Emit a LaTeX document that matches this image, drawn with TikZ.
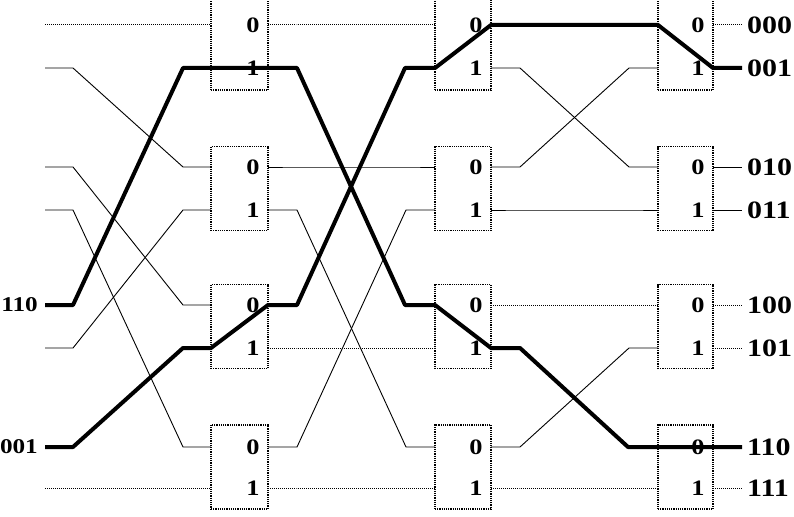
\documentclass[tikz,border=0pt]{standalone}
\usepackage{fontspec}
\setmainfont{Liberation Serif}[FakeStretch=1.2]
\begin{document}
\begin{tikzpicture}[x=1pt,y=-1pt,
  wire/.style={line width=0.9pt},
  dotwire/.style={line width=1pt, dash pattern=on 1pt off 1pt},
  boldwire/.style={line width=4pt, line join=round},
  swbox/.style={draw, line width=1.1pt, dash pattern=on 1.2pt off 1pt, minimum width=56pt, minimum height=84pt, inner sep=0pt, outer sep=0pt},
  port/.style={font=\fontsize{22}{22}\selectfont\bfseries, inner sep=0pt},
  lab/.style={font=\fontsize{25}{25}\selectfont\bfseries, inner sep=0pt, anchor=west},
  inlab/.style={font=\fontsize{21}{21}\selectfont\bfseries, inner sep=0pt, anchor=east},
]
\useasboundingbox (0,0) rectangle (794,516);
% switch boxes
\node[swbox, minimum width=57pt, minimum height=93pt] (A0) at (239.5,43.5) {};
\node[swbox, minimum width=57pt] (A1) at (239.5,188.5) {};
\node[swbox, minimum width=57pt] (A2) at (239.5,326.5) {};
\node[swbox, minimum width=57pt] (A3) at (239.5,467) {};
\node[swbox, minimum height=93pt] (B0) at (463,43.5) {};
\node[swbox] (B1) at (463,188.5) {};
\node[swbox] (B2) at (463,326.5) {};
\node[swbox] (B3) at (463,467) {};
\node[swbox, minimum width=55pt, minimum height=93pt] (C0) at (685.5,43.5) {};
\node[swbox, minimum width=55pt] (C1) at (685.5,188.5) {};
\node[swbox, minimum width=55pt] (C2) at (685.5,326.5) {};
\node[swbox, minimum width=55pt] (C3) at (685.5,467) {};
% port coordinates
\foreach \r/\y in {0/25,1/68,2/167,3/210,4/305,5/348,6/447,7/488}{
  \coordinate (in\r) at (45,\y);
  \coordinate (ai\r) at (211,\y);
  \coordinate (ao\r) at (268,\y);
  \coordinate (bi\r) at (435,\y);
  \coordinate (bo\r) at (491,\y);
  \coordinate (ci\r) at (658,\y);
  \coordinate (co\r) at (713,\y);
  \coordinate (out\r) at (742,\y);
}
% port digits
\foreach \y in {25,167,305,447}{
  \node[port] at (253,\y) {0};
  \node[port] at (476,\y) {0};
  \node[port] at (698,\y) {0};
}
\foreach \y in {68,210,348,488}{
  \node[port] at (253,\y) {1};
  \node[port] at (476,\y) {1};
  \node[port] at (698,\y) {1};
}
\newcommand\conn[4]{\draw[#1] (#2) -- ++(#4,0) -- ([xshift=-#4pt]#3) -- (#3);}
% input -> stage 1
\conn{dotwire}{in0}{ai0}{28}
\conn{wire}{in1}{ai2}{28}
\conn{wire}{in2}{ai4}{28}
\conn{wire}{in3}{ai6}{28}
\conn{wire}{in5}{ai3}{28}
\conn{dotwire}{in7}{ai7}{28}
% stage 1 -> stage 2
\conn{dotwire}{ao0}{bi0}{29}
\conn{wire}{ao2}{bi2}{29}
\conn{wire}{ao3}{bi6}{29}
\conn{dotwire}{ao5}{bi5}{29}
\conn{wire}{ao6}{bi3}{29}
\conn{dotwire}{ao7}{bi7}{29}
% stage 2 -> stage 3
\conn{wire}{bo1}{ci2}{29}
\conn{wire}{bo2}{ci1}{29}
\conn{wire}{bo3}{ci3}{29}
\conn{dotwire}{bo4}{ci4}{29}
\conn{wire}{bo6}{ci5}{29}
\conn{dotwire}{bo7}{ci7}{29}
% outputs
\draw[dotwire] (co0) -- (out0);
\draw[wire] (co2) -- (out2);
\draw[wire] (co3) -- (out3);
\draw[dotwire] (co4) -- (out4);
\draw[dotwire] (co5) -- (out5);
\draw[dotwire] (co7) -- (out7);
% highlighted paths
\draw[boldwire] (in4) -- ++(28,0) -- ([xshift=-28pt]ai1) -- (ai1) -- (ao1)
  -- ++(29,0) -- ([xshift=-30pt]bi4) -- (bi4) -- (bo5)
  -- ++(29,0) -- ([xshift=-30pt]ci6) -- (ci6) -- (co6) -- (out6);
\draw[boldwire] (in6) -- ++(28,0) -- ([xshift=-28pt]ai5) -- (ai5) -- (ao4)
  -- ++(29,0) -- ([xshift=-30pt]bi1) -- (bi1) -- (bo0)
  -- (ci0) -- (co1) -- (out1);
% labels
\node[inlab] (l110) at (38,305) {110};
\node[inlab] (l001) at (38,447) {001};
\node[lab] at (747,25) {000};
\node[lab] at (747,68) {001};
\node[lab] at (747,167) {010};
\node[lab] at (747,210) {011};
\node[lab] at (747,305) {100};
\node[lab] at (747,348) {101};
\node[lab] at (747,447) {110};
\node[lab] at (747,488) {111};
\end{tikzpicture}
\end{document}
